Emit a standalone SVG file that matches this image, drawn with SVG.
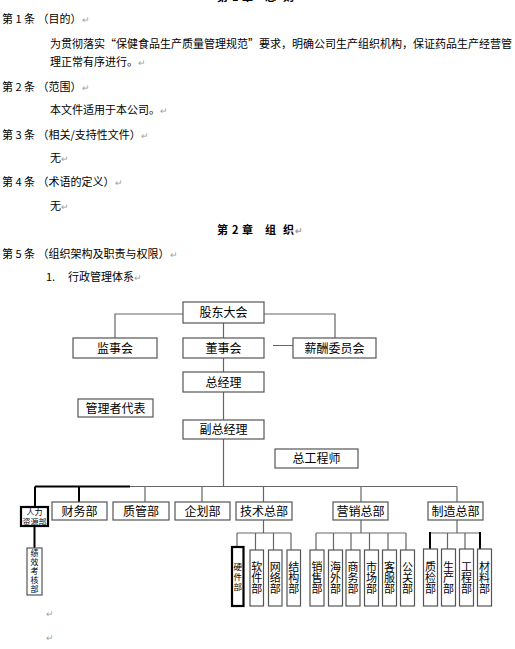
<svg xmlns="http://www.w3.org/2000/svg" width="515" height="649" viewBox="0 0 515 649">
<style>
text{font-family:"Noto Sans CJK SC","Liberation Sans",sans-serif;fill:#000}
.b{font-size:11px}
.pm{fill:#a0a0a0;font-size:9px}
.h{font-size:11px;font-weight:bold}
.box{fill:#fff;stroke:#555;stroke-width:1.2}
.bk{fill:#fff;stroke:#000;stroke-width:2.2}
.t{font-size:12px;text-anchor:middle}
.v{font-size:11px;text-anchor:middle;writing-mode:vertical-rl}
.vs{font-size:8px;text-anchor:middle;writing-mode:vertical-rl;letter-spacing:1px}
.s{font-size:8px;text-anchor:middle}
.ln{fill:none;stroke:#666;stroke-width:1.2}
.lk{fill:none;stroke:#000;stroke-width:2}
</style>
<rect width="515" height="649" fill="#fff"/>
<g id="text">
<text class="h" y="1"><tspan x="217">第</tspan><tspan x="232">1</tspan><tspan x="242">章</tspan><tspan x="265">总</tspan><tspan x="283">则</tspan></text>
<text class="b" x="2" y="23">第 1 条 （目的）<tspan class="pm">↵</tspan></text>
<text class="b" x="50" y="48" textLength="462" lengthAdjust="spacing">为贯彻落实“保健食品生产质量管理规范”要求，明确公司生产组织机构，保证药品生产经营管</text>
<text class="b" x="50" y="66">理正常有序进行。<tspan class="pm">↵</tspan></text>
<text class="b" x="2" y="91">第 2 条 （范围）<tspan class="pm">↵</tspan></text>
<text class="b" x="50" y="114">本文件适用于本公司。<tspan class="pm">↵</tspan></text>
<text class="b" x="2" y="139">第 3 条 （相关/支持性文件）<tspan class="pm">↵</tspan></text>
<text class="b" x="50" y="162">无<tspan class="pm">↵</tspan></text>
<text class="b" x="2" y="186">第 4 条 （术语的定义）<tspan class="pm">↵</tspan></text>
<text class="b" x="50" y="210">无<tspan class="pm">↵</tspan></text>
<text class="h" y="234"><tspan x="217">第</tspan><tspan x="232">2</tspan><tspan x="242">章</tspan><tspan x="265">组</tspan><tspan x="283">织</tspan><tspan class="pm" x="295">↵</tspan></text>
<text class="b" x="2" y="258">第 5 条 （组织架构及职责与权限）<tspan class="pm">↵</tspan></text>
<text class="b" x="46" y="281">1.<tspan x="68">行政管理体系</tspan><tspan class="pm">↵</tspan></text>
<text class="pm" x="46" y="617">↵</text>
<text class="pm" x="46" y="641">↵</text>
</g>
<g id="connectors">
<path class="ln" d="M183,314H115V338M264,314H335V338M223.5,323V338M223.5,358V372M223.5,392V420M223.5,439V486.5M273,345.5H293"/>
<path class="ln" d="M130,486.5H457M145,486.5V502M202,486.5V502M263.5,486.5V502M361,486.5V502M457,486.5V502"/>
<path class="lk" d="M35,486.5H130M35,486.5V507M34.5,526V548M79,486.5V502"/>
<path class="ln" d="M263.5,520V533M237,533H291M237,533V547M255.5,533V550M273.5,533V550M291,533V550"/>
<path class="ln" d="M361,520V533M316,533H406M316,533V550M333.5,533V550M351,533V550M369.5,533V550M388,533V550M406,533V550"/>
<path class="ln" d="M457,520V533M430,533H480M447.5,533V549M465,533V549"/>
<path class="lk" d="M430,532V549M480,532V549"/>
</g>
<g id="n-gudong"><rect class="box" x="183" y="302" width="81" height="21"/><text class="t" x="223.5" y="317">股东大会</text></g>
<g id="n-jianshi"><rect class="box" x="73" y="338" width="84" height="20"/><text class="t" x="115" y="352.5">监事会</text></g>
<g id="n-dongshi"><rect class="box" x="183" y="338" width="81" height="20"/><text class="t" x="223.5" y="352.5">董事会</text></g>
<g id="n-xinchou"><rect class="box" x="293" y="338" width="83" height="20"/><text class="t" x="334.5" y="352.5">薪酬委员会</text></g>
<g id="n-zongjingli"><rect class="box" x="183" y="372" width="81" height="20"/><text class="t" x="223.5" y="386.5">总经理</text></g>
<g id="n-guanli"><rect class="box" x="78" y="399" width="75" height="18"/><text class="t" x="115.5" y="412.5">管理者代表</text></g>
<g id="n-fuzong"><rect class="box" x="183" y="420" width="81" height="19"/><text class="t" x="223.5" y="434">副总经理</text></g>
<g id="n-zonggong"><rect class="box" x="275" y="449" width="83" height="19"/><text class="t" x="316.5" y="463">总工程师</text></g>
<g id="n-renli"><rect class="bk" x="21" y="507" width="27" height="19"/><text class="s" x="34.5" y="515">人力</text><text class="s" x="34.5" y="524.5">资源部</text></g>
<g id="n-jixiao"><rect class="box" x="27" y="548" width="15" height="47"/><text class="vs" x="34.5" y="571.5">绩效考核部</text></g>
<g id="n-caiwu"><rect class="box" x="52" y="502" width="55" height="18"/><text class="t" x="79.5" y="515.5">财务部</text></g>
<g id="n-zhiguan"><rect class="box" x="113" y="502" width="56" height="18"/><text class="t" x="141" y="515.5">质管部</text></g>
<g id="n-qihua"><rect class="box" x="175" y="502" width="55" height="18"/><text class="t" x="202.5" y="515.5">企划部</text></g>
<g id="n-jishu"><rect class="box" x="236" y="502" width="56" height="18"/><text class="t" x="264" y="515.5">技术总部</text></g>
<g id="n-yingxiao"><rect class="box" x="333" y="502" width="55" height="18"/><text class="t" x="360.5" y="515.5">营销总部</text></g>
<g id="n-zhizao"><rect class="box" x="428" y="502" width="55" height="18"/><text class="t" x="455.5" y="515.5">制造总部</text></g>
<g id="n-yingjian"><rect class="bk" x="232" y="547" width="11.5" height="59"/><text class="vs" style="font-size:8.5px;letter-spacing:1.5px" x="237.75" y="577.5">硬件部</text></g>
<g id="n-ruanjian"><rect class="box" x="250" y="550" width="13.5" height="56"/><text class="v" x="256.75" y="578">软件部</text></g>
<g id="n-wangluo"><rect class="box" x="268.5" y="550" width="13.5" height="56"/><text class="v" x="275.25" y="578">网络部</text></g>
<g id="n-jiegou"><rect class="box" x="287" y="550" width="13.5" height="56"/><text class="v" x="293.75" y="578">结构部</text></g>
<g id="n-xiaoshou"><rect class="box" x="310" y="550" width="14" height="56"/><text class="v" x="317" y="578">销售部</text></g>
<g id="n-haiwai"><rect class="box" x="328.5" y="550" width="14" height="56"/><text class="v" x="335.5" y="578">海外部</text></g>
<g id="n-shangwu"><rect class="box" x="346" y="550" width="14" height="56"/><text class="v" x="353" y="578">商务部</text></g>
<g id="n-shichang"><rect class="box" x="364.5" y="550" width="14" height="56"/><text class="v" x="371.5" y="578">市场部</text></g>
<g id="n-kefu"><rect class="box" x="382.5" y="550" width="14" height="56"/><text class="v" x="389.5" y="578">客服部</text></g>
<g id="n-gongguan"><rect class="box" x="400.5" y="550" width="14" height="56"/><text class="v" x="407.5" y="578">公关部</text></g>
<g id="n-zhijian"><rect class="box" x="423.5" y="549" width="14" height="57"/><text class="v" x="430.5" y="578">质检部</text></g>
<g id="n-shengchan"><rect class="box" x="441.5" y="549" width="14" height="57"/><text class="v" x="448.5" y="578">生产部</text></g>
<g id="n-gongcheng"><rect class="box" x="459.5" y="549" width="14" height="57"/><text class="v" x="466.5" y="578">工程部</text></g>
<g id="n-cailiao"><rect class="box" x="477.5" y="549" width="14" height="57"/><text class="v" x="484.5" y="578">材料部</text></g>
</svg>
